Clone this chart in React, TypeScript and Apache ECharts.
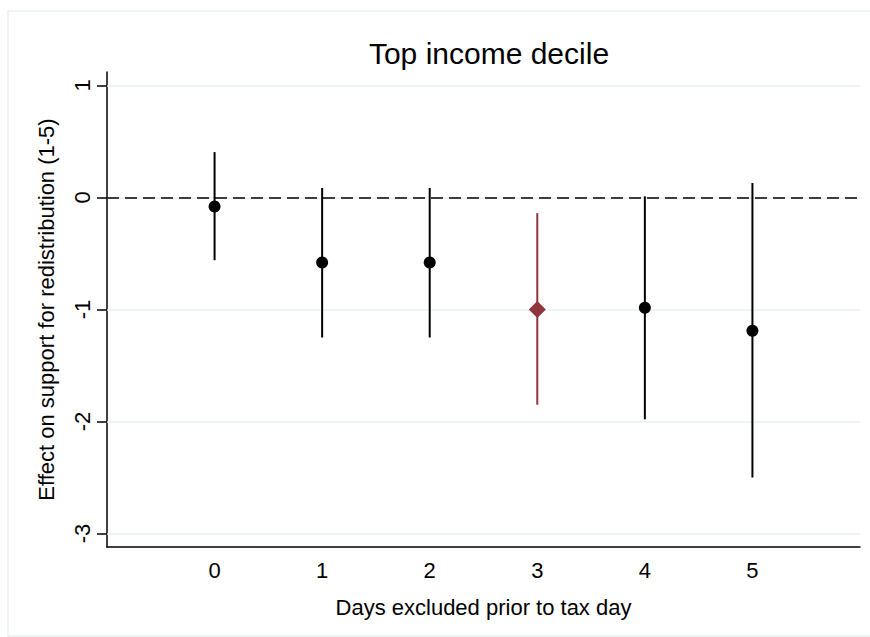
import { useEffect, useRef } from 'react';
import * as echarts from 'echarts';

/* ───── Data ───── */
const days = [0, 1, 2, 3, 4, 5];
const estimate = [-0.08, -0.58, -0.58, -1.0, -0.985, -1.19];
const ciLow = [-0.56, -1.25, -1.25, -1.85, -1.98, -2.5];
const ciHigh = [0.405, 0.085, 0.085, -0.14, 0.01, 0.13];
const highlightDay = 3;
const yTicks = [-3, -2, -1, 0, 1];
const xLabels = ['0', '1', '2', '3', '4', '5'];

const FONT = '"Liberation Sans", Arial, Helvetica, sans-serif';
const RED = '#90353b';
const GRID = '#e9eff2';

export default function App() {
  const ref = useRef<HTMLDivElement>(null);

  useEffect(() => {
    if (!ref.current) return;
    const chart = echarts.init(ref.current, null, { renderer: 'svg' });

    const bars = days.map((d, i) => [d, ciLow[i], ciHigh[i]]);
    const points = days.map((d, i) => ({
      value: [d, estimate[i]],
      symbol: d === highlightDay ? 'diamond' : 'circle',
      symbolSize: d === highlightDay ? 17 : 12,
      itemStyle: { color: d === highlightDay ? RED : '#000', opacity: 1 },
    }));

    chart.setOption({
      animation: false,
      textStyle: { fontFamily: FONT },
      title: {
        text: 'Top income decile',
        left: 484, top: 33, textAlign: 'center',
        textStyle: { fontFamily: FONT, fontSize: 30, fontWeight: 'normal', color: '#000' },
      },
      graphic: [{
        type: 'rect', silent: true, z: -1,
        shape: { x: 8, y: 11, width: 900, height: 625 },
        style: { fill: 'none', stroke: GRID, lineWidth: 1.5 },
      }],
      grid: { left: 107, right: 10, top: 72, bottom: 90 },
      xAxis: {
        type: 'value', min: -1, max: 6, interval: 1,
        name: 'Days excluded prior to tax day', nameLocation: 'middle', nameGap: 49,
        nameTextStyle: { fontFamily: FONT, fontSize: 22, color: '#000' },
        axisLine: { onZero: false, lineStyle: { color: '#000', width: 1.5 } },
        axisTick: { show: false },
        splitLine: { show: false },
        axisLabel: {
          fontFamily: FONT, fontSize: 22, color: '#000', margin: 12,
          formatter: (v: number) => (v >= 0 && v <= 5 ? xLabels[v] : ''),
        },
      },
      yAxis: {
        type: 'value', min: -3.12, max: 1.12,
        name: 'Effect on support for redistribution (1-5)', nameLocation: 'middle', nameGap: 50,
        nameRotate: 90,
        nameTextStyle: { fontFamily: FONT, fontSize: 22, color: '#000' },
        axisLine: { show: true, onZero: false, lineStyle: { color: '#000', width: 1.5 } },
        axisTick: { show: true, customValues: yTicks, length: 10, lineStyle: { color: '#000', width: 1.5 } },
        splitLine: { show: false },
        axisLabel: {
          customValues: yTicks, rotate: 90, margin: 14,
          fontFamily: FONT, fontSize: 22, color: '#000',
        },
      },
      series: [
        {
          type: 'line', data: [], silent: true, z: 1,
          markLine: {
            silent: true, symbol: 'none', animation: false, z: 1,
            label: { show: false },
            lineStyle: { color: GRID, width: 1.5, type: 'solid' },
            data: yTicks.map(v => ({ yAxis: v })),
          },
        },
        {
          type: 'line', data: [], silent: true, z: 2,
          markLine: {
            silent: true, symbol: 'none', animation: false, z: 2,
            label: { show: false },
            lineStyle: { color: '#000', width: 1.6, type: [12, 6] },
            data: [{ yAxis: 0 }],
          },
        },
        {
          type: 'custom', z: 3, silent: true,
          data: bars,
          renderItem: (_p: any, api: any) => {
            const x = api.value(0);
            const lo = api.coord([x, api.value(1)]);
            const hi = api.coord([x, api.value(2)]);
            return {
              type: 'line',
              shape: { x1: lo[0], y1: lo[1], x2: hi[0], y2: hi[1] },
              style: { stroke: x === highlightDay ? RED : '#000', lineWidth: 2 },
            };
          },
        },
        {
          type: 'scatter', z: 4, silent: true,
          data: points,
        },
      ],
    });

    return () => { chart.dispose(); };
  }, []);

  return (
    <div ref={ref} style={{ position: 'fixed', left: 0, top: 0, width: 870, height: 637, background: '#fff' }} />
  );
}
